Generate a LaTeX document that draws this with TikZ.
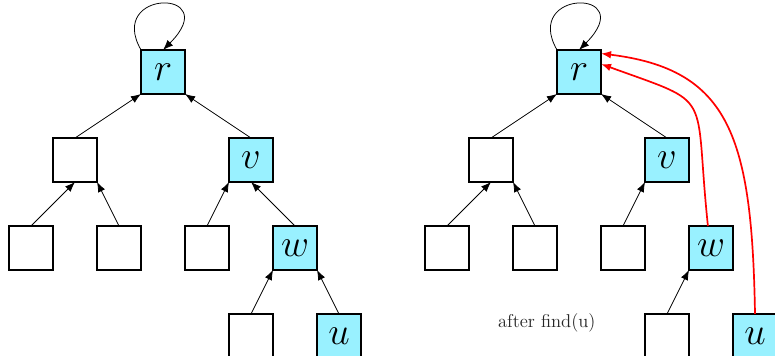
\documentclass[tikz,border=0pt]{standalone}
\usetikzlibrary{arrows.meta, positioning}
\definecolor{pathcyan}{RGB}{153,241,255}

\begin{document}
\begin{tikzpicture}[
  >={Latex[length=6.5pt,width=5pt]},
  vertex/.style={draw, line width=0.9pt, minimum size=1cm, inner sep=0pt, outer sep=0pt, font=\Huge},
  onpath/.style={vertex, fill=pathcyan},
  arr/.style={->, line width=0.5pt},
  compress/.style={->, red, line width=1.1pt},
]
\useasboundingbox (-3.705,-6.455) rectangle (13.909,1.636);
\clip (-3.705,-6.455) rectangle (13.909,1.636);

% Before find(u)
\node[onpath] (root) at (0,0) {$r$};
\node[vertex, below left=1cm and 1cm of root] (x) {};
\node[onpath, below right=1cm and 1cm of root] (v) {$v$};
\node[vertex, below left=1cm and 0cm of x] (xl) {};
\node[vertex, below right=1cm and 0cm of x] (xr) {};
\node[vertex, below left=1cm and 0cm of v] (vl) {};
\node[onpath, below right=1cm and 0cm of v] (w) {$w$};
\node[vertex, below left=1cm and 0cm of w] (wl) {};
\node[onpath, below right=1cm and 0cm of w] (u) {$u$};

\draw[arr] (root.north west) .. controls +(-0.8,1.4) and +(1.4,1.4) .. (root.north);
\draw[arr] (x.north) -- (root.south west);
\draw[arr] (v.north) -- (root.south east);
\draw[arr] (xl.north) -- (x.south);
\draw[arr] (xr.north) -- (x.south east);
\draw[arr] (vl.north) -- (v.south west);
\draw[arr] (w.north) -- (v.south);
\draw[arr] (wl.north) -- (w.south west);
\draw[arr] (u.north) -- (w.south east);

% After find(u)
\node[onpath, right=8.4545cm of root] (root2) {$r$};
\node[vertex, below left=1cm and 1cm of root2] (x2) {};
\node[onpath, below right=1cm and 1cm of root2] (v2) {$v$};
\node[vertex, below left=1cm and 0cm of x2] (xl2) {};
\node[vertex, below right=1cm and 0cm of x2] (xr2) {};
\node[vertex, below left=1cm and 0cm of v2] (vl2) {};
\node[onpath, below right=1cm and 0cm of v2] (w2) {$w$};
\node[vertex, below left=1cm and 0cm of w2] (wl2) {};
\node[onpath, below right=1cm and 0cm of w2] (u2) {$u$};

\draw[arr] (root2.north west) .. controls +(-0.8,1.4) and +(1.4,1.4) .. (root2.north);
\draw[arr] (x2.north) -- (root2.south west);
\draw[arr] (v2.north) -- (root2.south east);
\draw[arr] (xl2.north) -- (x2.south);
\draw[arr] (xr2.north) -- (x2.south east);
\draw[arr] (vl2.north) -- (v2.south west);
\draw[arr] (wl2.north) -- (w2.south west);

% Path compression
\draw[compress] ([xshift=-2pt]w2.north) to[out=96, in=-20, out looseness=1.83, in looseness=1.62] (root2.20);
\draw[compress] (u2.north) to[out=91, in=-7, out looseness=1.5, in looseness=1.1] (root2.40);

\node[font=\large, black!85, left=1cm of wl2, yshift=0.3cm] (caption) {after find(u)};

\end{tikzpicture}
\end{document}
